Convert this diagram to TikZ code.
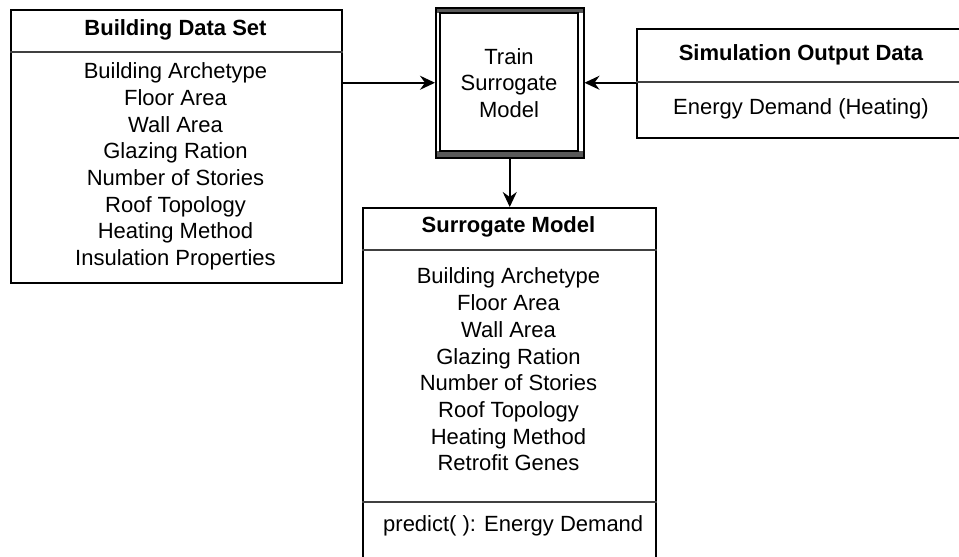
\documentclass[tikz,border=0pt]{standalone}
\usepackage{fontspec}
\setmainfont{Liberation Sans}
\usetikzlibrary{arrows.meta}
\begin{document}
\begin{tikzpicture}[x=1pt,y=-1pt,
 box/.style={draw=black,line width=1.7pt,rectangle,inner sep=0pt,anchor=north west},
 sepline/.style={draw=black!75,line width=1.3pt},
 txt/.style={font=\fontsize{22}{26.7}\selectfont,align=center,inner sep=0pt},
 ttl/.style={font=\fontsize{22}{26.7}\selectfont\bfseries,inner sep=0pt},
 arr/.style={line width=1.8pt,-{Stealth[length=15pt,width=14pt,inset=5pt]}}]
\useasboundingbox (0,0) rectangle (959,557);
% Building Data Set
\node[box,minimum width=331pt,minimum height=273pt] (bds) at (10,9) {};
\draw[sepline] (bds.west |- 0,52) -- (bds.east |- 0,52);
\node[ttl] (bdsT) at (175.5,30) {Building Data Set};
\node[txt] (bdsI) at (175.5,166.5) {Building Archetype\\Floor Area\\Wall Area\\Glazing Ration\\Number of Stories\\Roof Topology\\Heating Method\\Insulation Properties};
% Train box
\fill[black!65] (435,7) rectangle (583,13);
\fill[black!65] (435,151) rectangle (583,157);
\node[box,minimum width=148pt,minimum height=150pt,line width=1.5pt] (train) at (435,7) {};
\draw[line width=1.3pt] (440,13) rectangle (578,151);
\node[txt] (trainT) at (509,83) {Train\\Surrogate\\Model};
% Simulation Output Data
\node[box,minimum width=330pt,minimum height=109pt] (sim) at (636,28) {};
\draw[sepline] (sim.west |- 0,82) -- (sim.east |- 0,82);
\node[ttl] (simT) at (801,55) {Simulation Output Data};
\node[txt] (simI) at (801,109) {Energy Demand (Heating)};
% Surrogate Model
\node[box,minimum width=293pt,minimum height=370pt] (sm) at (362,207) {};
\draw[sepline] (sm.west |- 0,250) -- (sm.east |- 0,250);
\draw[sepline] (sm.west |- 0,502) -- (sm.east |- 0,502);
\node[ttl] (smT) at (508.5,227) {Surrogate Model};
\node[txt] (smI) at (508.5,369.5) {Building Archetype\\Floor Area\\Wall Area\\Glazing Ration\\Number of Stories\\Roof Topology\\Heating Method\\Retrofit Genes};
\node[txt,anchor=west] (smP) at (383,526) {predict( ): Energy Demand};
% arrows
\draw[arr] (bds.east |- train.west) -- (train.west);
\draw[arr] (sim.west |- train.east) -- (train.east);
\draw[arr] (train.south) -- (train.south |- sm.north);
\end{tikzpicture}
\end{document}
